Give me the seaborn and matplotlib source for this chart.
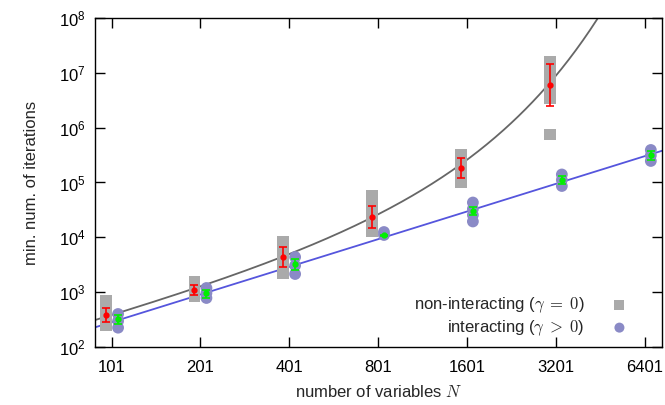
import matplotlib
matplotlib.use("Agg")
import matplotlib.pyplot as plt
from matplotlib.ticker import NullLocator, FixedLocator, LogFormatterSciNotation
import numpy as np
import pandas as pd
import seaborn as sns

# system sizes on the x axis
N_VALUES = [101, 201, 401, 801, 1601, 3201, 6401]
N_LABELS = ["101", "201", "401", "801", "1601", "3201", "6401"]

# single runs, non-interacting (gamma = 0)
nonint_n = [101, 101, 101, 101,
            201, 201, 201,
            401, 401, 401, 401, 401,
            801, 801, 801, 801, 801,
            1601, 1601, 1601, 1601,
            3201, 3201, 3201, 3201, 3201, 3201]
nonint_iters = [690, 493, 352, 247,
                1567, 1143, 851,
                8222, 5875, 4198, 3000, 2188,
                57940, 40550, 27800, 19050, 13060,
                324400, 227000, 155600, 102100,
                1.611e7, 1.037e7, 6.53e6, 4.29e6, 3.40e6, 7.52e5]

# single runs, interacting (gamma > 0)
inter_n = [101, 101, 101,
           201, 201, 201,
           401, 401, 401,
           801, 801,
           1601, 1601, 1601, 1601,
           3201, 3201, 3201,
           6401, 6401, 6401]
inter_iters = [400, 298, 225,
               1191, 966, 783,
               4375, 3062, 2143,
               12500, 11030,
               43150, 32870, 25550, 19460,
               140000, 111200, 86300,
               391800, 311200, 246800]

# averages with error bars
nonint_mean_n = [101, 201, 401, 801, 1601, 3201]
nonint_mean = [379, 1096, 4375, 23230, 181600, 6.0e6]
nonint_lo = [282, 900, 2844, 14620, 119400, 2.52e6]
nonint_hi = [508, 1368, 6745, 37330, 276700, 1.432e7]

inter_mean_n = [101, 201, 401, 801, 1601, 3201, 6401]
inter_mean = [320, 953, 3222, 10900, 30620, 111200, 313500]
inter_lo = [262, 773, 2535, 10600, 25230, 94000, 255300]
inter_hi = [384, 1109, 4074, 11200, 36240, 131500, 380200]

# fitted curves: log10(y) = a + b*log10(N) + c*N
fit_nonint = (-0.5097, 1.511, 6.746e-4)
fit_inter = (-0.910, 1.679, 0.0)

sns.set_theme(style="ticks")
plt.rcParams["font.family"] = ["Liberation Sans", "DejaVu Sans"]
plt.rcParams["mathtext.fontset"] = "cm"

GRAY = "#aaaaaa"
PURPLE = "#8a8ac6"
OFFSET = 1.048
FS = 12

fig = plt.figure(figsize=(6.65, 4.05), dpi=100)
ax = fig.add_axes([0.143, 0.1432, 0.852, 0.8124])

# fit curves
xs = np.geomspace(85, 7400, 400)
for (a, b, c), col in [(fit_nonint, "#666666"), (fit_inter, "#5555dd")]:
    ys = 10 ** (a + b * np.log10(xs) + c * xs)
    sns.lineplot(x=xs, y=ys, color=col, lw=1.3, ax=ax, zorder=1)

df_non = pd.DataFrame({"N": [n / OFFSET for n in nonint_n], "iters": nonint_iters})
df_int = pd.DataFrame({"N": [n * OFFSET for n in inter_n], "iters": inter_iters})
sns.scatterplot(data=df_non, x="N", y="iters", marker="s", s=70, color=GRAY,
                edgecolor="none", ax=ax, zorder=2,
                label=r"non-interacting ($\gamma\;=\;0$)")
sns.scatterplot(data=df_int, x="N", y="iters", marker="o", s=72, color=PURPLE,
                edgecolor="none", ax=ax, zorder=2,
                label=r"interacting ($\gamma\;>\;0$)")

# means with error bars
xm = [n / OFFSET for n in nonint_mean_n]
ax.errorbar(xm, nonint_mean,
            yerr=[np.array(nonint_mean) - np.array(nonint_lo),
                  np.array(nonint_hi) - np.array(nonint_mean)],
            fmt="o", ms=3.5, color="#ff0000", ecolor="#ff0000", elinewidth=1.2,
            capsize=3, capthick=1.2, zorder=3)
xm = [n * OFFSET for n in inter_mean_n]
ax.errorbar(xm, inter_mean,
            yerr=[np.array(inter_mean) - np.array(inter_lo),
                  np.array(inter_hi) - np.array(inter_mean)],
            fmt="o", ms=3.5, color="#00f000", ecolor="#00f000", elinewidth=1.2,
            capsize=3, capthick=1.2, zorder=3)

ax.set_xscale("log", base=2)
ax.set_yscale("log")
ax.set_xlim(88.5, 7300)
ax.set_ylim(1e2, 1e8)
ax.xaxis.set_major_locator(FixedLocator(N_VALUES))
ax.set_xticklabels(N_LABELS)
ax.xaxis.set_minor_locator(NullLocator())
ax.yaxis.set_major_locator(FixedLocator([10.0 ** k for k in range(2, 9)]))
ax.yaxis.set_major_formatter(LogFormatterSciNotation())
ax.yaxis.set_minor_locator(NullLocator())

for sp in ax.spines.values():
    sp.set_visible(True)
    sp.set_color("black")
    sp.set_linewidth(1.0)
ax.tick_params(which="major", direction="in", length=7, width=1.0,
               top=True, right=True, labelsize=FS, colors="black")
ax.tick_params(axis="y", pad=7)
ax.tick_params(axis="x", pad=9.5)

ax.set_xlabel(r"number of variables $N$", fontsize=FS, labelpad=6)
ax.set_ylabel("min. num. of iterations", fontsize=FS, labelpad=14)

leg = ax.legend(loc="lower right", bbox_to_anchor=(0.944, 0.166),
                bbox_transform=fig.transFigure, frameon=False, borderpad=0,
                borderaxespad=0, markerfirst=False, fontsize=FS, markerscale=0.85,
                handlelength=1.0, handletextpad=1.6, labelspacing=0.2)
for t in leg.get_texts():
    t.set_ha("right")

fig.savefig("out.png", dpi=100)
